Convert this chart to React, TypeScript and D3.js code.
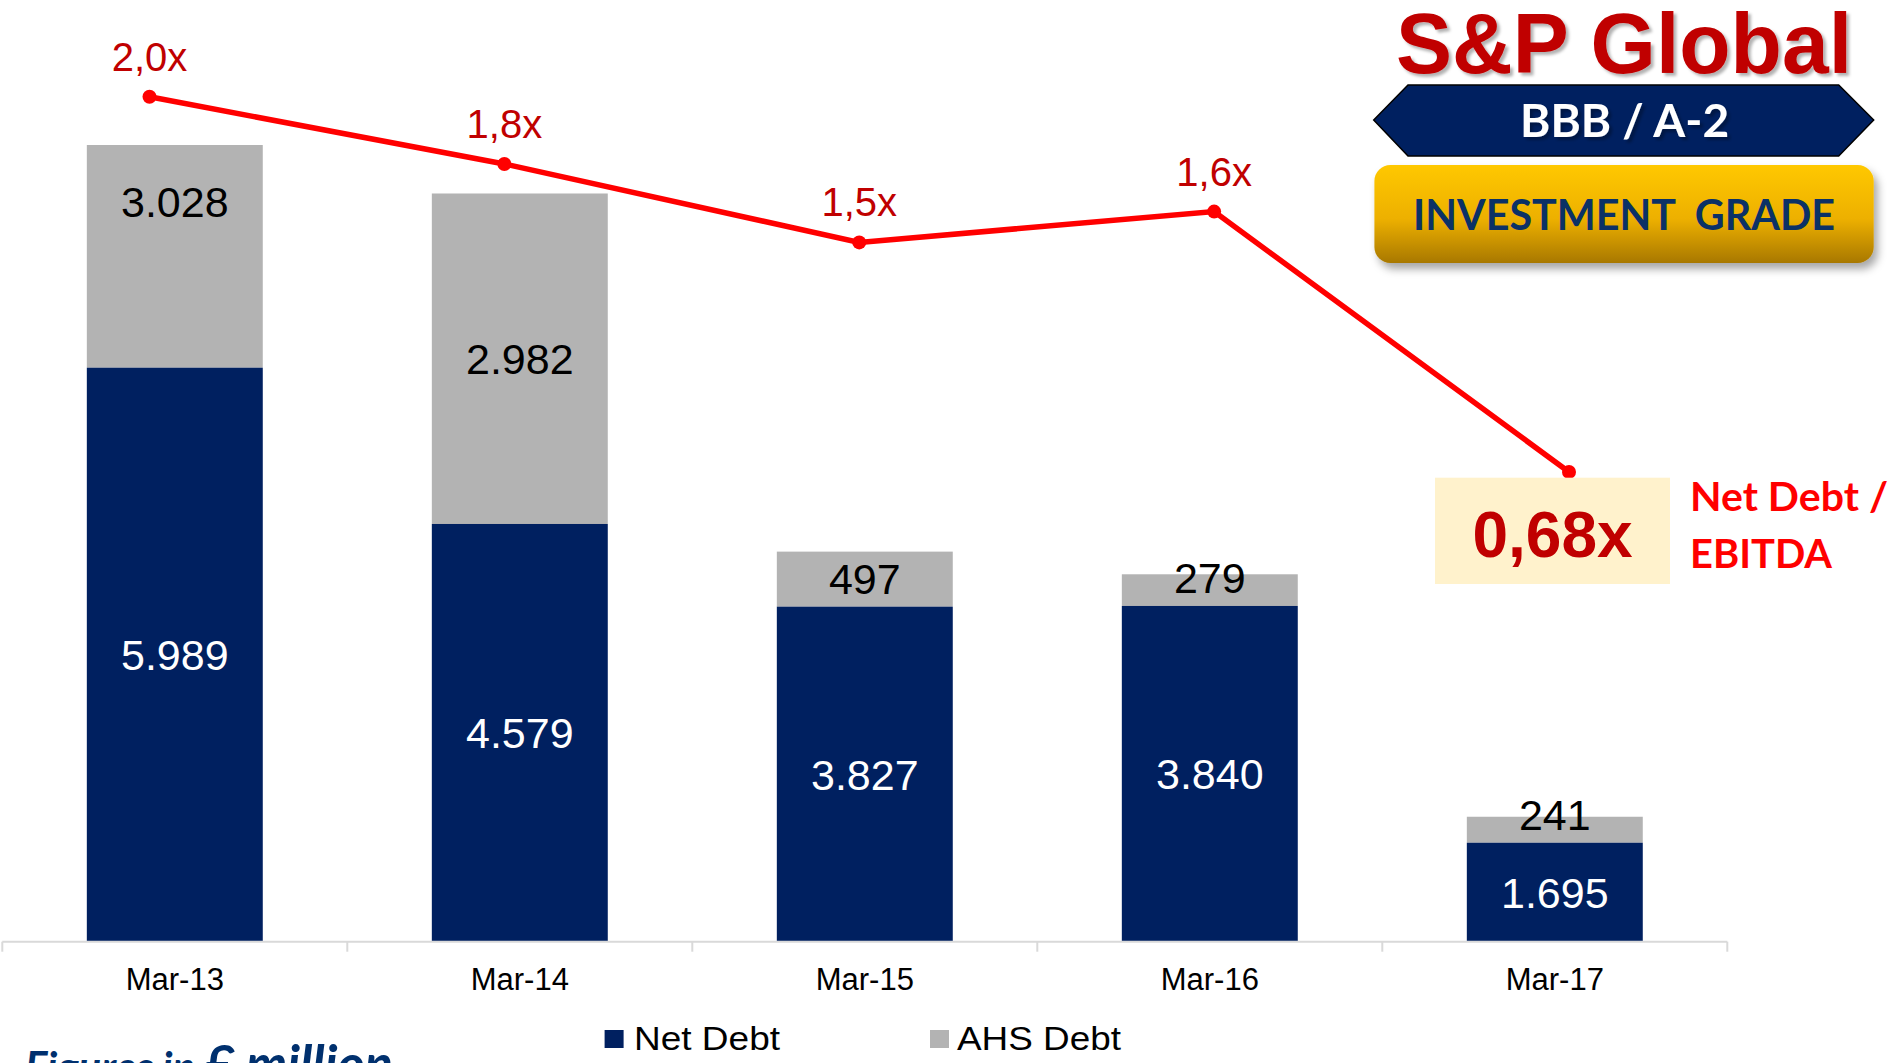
import React from "react";
import * as d3 from "d3";

// categories on the x axis
const categories = ["Mar-13", "Mar-14", "Mar-15", "Mar-16", "Mar-17"];

// segment heights as drawn in the picture (EUR million)
const netDebt = [6560, 4774, 3829, 3837, 1131];
const ahsDebt = [2545, 3777, 629, 362, 297];

// numbers printed on the segments
const netDebtLabels = ["5.989", "4.579", "3.827", "3.840", "1.695"];
const ahsDebtLabels = ["3.028", "2.982", "497", "279", "241"];

// Net Debt / EBITDA line
const leverage = [2.02, 1.78, 1.5, 1.61, 0.68];
const leverageLabels = ["2,0x", "1,8x", "1,5x", "1,6x", "0,68x"];

const W = 1898;
const H = 1063;
const base = 941.7;
const NAVY = "#002060";
const GREY = "#B3B3B3";
const ARIAL = "Liberation Sans, Arial, sans-serif";
const CAL = "Lato, Carlito, sans-serif";

// the first grey label sits high in its segment in the original slide
const ahsLabelShift: Record<string, number> = { "Mar-13": -55 };

const App = () => {
  const x = d3
    .scaleBand()
    .domain(categories)
    .range([2.3, 1727.3])
    .paddingInner(0.49)
    .paddingOuter(0.245);

  const y = d3.scaleLinear().domain([0, 10000]).range([base, base - 875]);

  // the line sits on its own (slightly wider) plot area
  const xl = d3.scalePoint().domain(categories).range([149.5, 1569]);
  const yl = d3.scaleLinear().domain([0, 2]).range([662.4, 102.4]);

  const line = d3
    .line<number>()
    .x((d, i) => xl(categories[i]) as number)
    .y((d) => yl(d));

  const step = x.step();
  const ticks = d3.range(categories.length + 1).map((i) => 2.3 + i * step);

  return (
    <svg
      width={W}
      height={H}
      style={{ position: "absolute", left: 0, top: 0, display: "block" }}
    >
      <defs>
        <linearGradient id="gold" x1="0" y1="0" x2="0" y2="1">
          <stop offset="0" stopColor="#FFC800" />
          <stop offset="0.55" stopColor="#EDB000" />
          <stop offset="1" stopColor="#A87800" />
        </linearGradient>
        <filter id="sh" x="-10%" y="-20%" width="130%" height="160%">
          <feDropShadow dx="3" dy="3" stdDeviation="1.8" floodColor="#000" floodOpacity="0.3" />
        </filter>
        <filter id="boxsh" x="-10%" y="-20%" width="130%" height="170%">
          <feDropShadow dx="4" dy="6" stdDeviation="4" floodColor="#000" floodOpacity="0.35" />
        </filter>
      </defs>
      <rect width={W} height={H} fill="#fff" />

      {/* stacked bars */}
      {categories.map((c, i) => {
        const bx = x(c) as number;
        const bw = x.bandwidth();
        const netTop = y(netDebt[i]);
        const ahsTop = y(netDebt[i] + ahsDebt[i]);
        const netMid = (base + netTop) / 2;
        const ahsMid =
          Math.min((netTop + ahsTop) / 2, netTop - 28) + (ahsLabelShift[c] || 0);
        return (
          <g key={c}>
            <rect x={bx} y={ahsTop} width={bw} height={netTop - ahsTop} fill={GREY} />
            <rect x={bx} y={netTop} width={bw} height={base - netTop} fill={NAVY} />
            <text
              x={bx + bw / 2}
              y={netMid}
              dy="0.36em"
              textAnchor="middle"
              fontFamily={ARIAL}
              fontSize={43}
              fill="#fff"
            >
              {netDebtLabels[i]}
            </text>
            <text
              x={bx + bw / 2}
              y={ahsMid}
              dy="0.36em"
              textAnchor="middle"
              fontFamily={ARIAL}
              fontSize={43}
              fill="#000"
            >
              {ahsDebtLabels[i]}
            </text>
            <text
              x={bx + bw / 2}
              y={990}
              textAnchor="middle"
              fontFamily={ARIAL}
              fontSize={31}
              fill="#000"
            >
              {c}
            </text>
          </g>
        );
      })}

      {/* axis */}
      <line x1={2.3} x2={1727.3} y1={base} y2={base} stroke="#D9D9D9" strokeWidth={2} />
      {ticks.map((t) => (
        <line key={t} x1={t} x2={t} y1={base} y2={base + 10} stroke="#D9D9D9" strokeWidth={2} />
      ))}

      {/* leverage line */}
      <path d={line(leverage) as string} fill="none" stroke="#FF0000" strokeWidth={5.5} />
      {leverage.map((v, i) => (
        <circle key={i} cx={xl(categories[i])} cy={yl(v)} r={7} fill="#FF0000" />
      ))}
      {leverage.slice(0, 4).map((v, i) => (
        <text
          key={i}
          x={xl(categories[i])}
          y={yl(v) - 26}
          textAnchor="middle"
          fontFamily={ARIAL}
          fontSize={40}
          fill="#C00000"
        >
          {leverageLabels[i]}
        </text>
      ))}

      {/* last point callout */}
      <rect x={1435} y={477.7} width={235} height={106.3} fill="#FFF2CC" />
      <text
        x={1552.5}
        y={556.7}
        textAnchor="middle"
        fontFamily={ARIAL}
        fontWeight="bold"
        fontSize={64}
        fill="#C00000"
      >
        {leverageLabels[4]}
      </text>
      <text fontFamily={CAL} fontWeight="bold" fontSize={41} fill="#FF0000">
        <tspan x={1690} y={511} textLength={198} lengthAdjust="spacingAndGlyphs">
          Net Debt /
        </tspan>
        <tspan x={1690} y={568.3} textLength={142} lengthAdjust="spacingAndGlyphs">
          EBITDA
        </tspan>
      </text>

      {/* rating badge */}
      <text
        x={1624}
        y={72.5}
        textAnchor="middle"
        fontFamily={ARIAL}
        fontWeight="bold"
        fontSize={86}
        fill="#C00000"
        filter="url(#sh)"
        textLength={456}
        lengthAdjust="spacingAndGlyphs"
      >
        S&amp;P Global
      </text>
      <polygon
        points="1373.7,120 1408,85 1838.7,85 1873.7,120 1838.7,156 1408,156"
        fill={NAVY}
        stroke="#000"
        strokeWidth={1.5}
      />
      <text
        x={1624.6}
        y={137}
        textAnchor="middle"
        fontFamily={CAL}
        fontWeight="bold"
        fontSize={45}
        fill="#fff"
        filter="url(#sh)"
        textLength={209}
        lengthAdjust="spacingAndGlyphs"
      >
        BBB / A-2
      </text>
      <rect
        x={1374.4}
        y={165}
        width={499.3}
        height={98}
        rx={16}
        fill="url(#gold)"
        filter="url(#boxsh)"
      />
      <text
        x={1624}
        y={230}
        textAnchor="middle"
        fontFamily={CAL}
        fontWeight="bold"
        fontSize={42}
        fill="#0B3166"
        style={{ whiteSpace: "pre" }}
        textLength={422}
        lengthAdjust="spacingAndGlyphs"
      >
        {"INVESTMENT  GRADE"}
      </text>

      {/* legend */}
      <rect x={604.6} y={1030} width={19} height={18} fill={NAVY} />
      <text x={634} y={1050} fontFamily={ARIAL} fontSize={33} textLength={146} lengthAdjust="spacingAndGlyphs">
        Net Debt
      </text>
      <rect x={930} y={1030} width={19} height={18} fill={GREY} />
      <text x={957} y={1050} fontFamily={ARIAL} fontSize={33} textLength={164} lengthAdjust="spacingAndGlyphs">
        AHS Debt
      </text>

      {/* footnote, cut by the page edge as in the original */}
      <text fontFamily={CAL} fontWeight="bold" fontStyle="italic" fill="#00306E" y={1082}>
        <tspan x={25} fontSize={42}>Figures in </tspan>
        <tspan fontSize={52}>£ million</tspan>
      </text>
    </svg>
  );
};

export default App;
